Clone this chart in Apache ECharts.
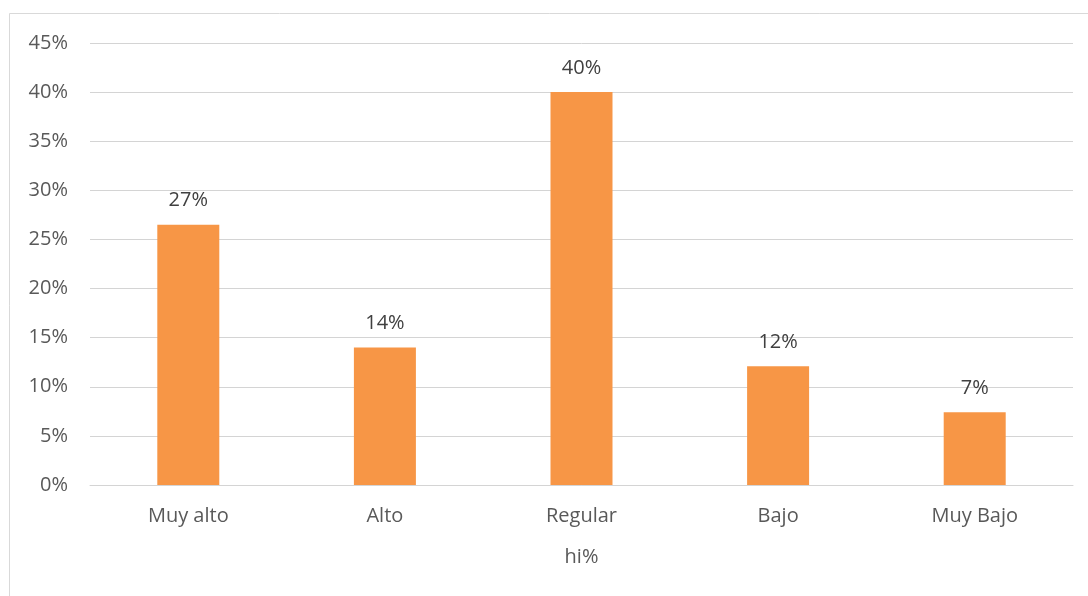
<!DOCTYPE html>
<html lang="es">
<head>
<meta charset="UTF-8">
<title>hi%</title>
<script src="https://cdn.jsdelivr.net/npm/echarts@6/dist/echarts.min.js"></script>
</head>
<body style="margin:0">
<div id="container" style="width:1088px;height:596px"></div>
<script type="text/javascript">
var categories = ['Muy alto', 'Alto', 'Regular', 'Bajo', 'Muy Bajo'];
var hiValues = [26.5, 14, 40, 12.1, 7.4];
var yTicks = [0, 5, 10, 15, 20, 25, 30, 35, 40, 45];

var myChart = echarts.init(document.getElementById('container'), null, { renderer: 'canvas' });
var textColor = '#595959';
var font = '"Open Sans", sans-serif';

var option = {
    backgroundColor: '#fff',
    animation: false,
    graphic: [{
        type: 'rect',
        shape: { x: 9.5, y: 13.5, width: 1100, height: 600 },
        style: { fill: 'none', stroke: '#d9d9d9', lineWidth: 1 },
        silent: true
    }],
    grid: { left: 90, right: 15, top: 43, bottom: 111 },
    xAxis: {
        type: 'category',
        data: categories,
        name: 'hi%',
        nameLocation: 'middle',
        nameGap: 62,
        nameTextStyle: { color: textColor, fontSize: 20, fontFamily: font },
        axisLine: { show: true, lineStyle: { color: '#d4d4d4' } },
        axisTick: { show: false },
        axisLabel: { color: textColor, fontSize: 20, fontFamily: font, margin: 21 }
    },
    yAxis: {
        type: 'value',
        min: yTicks[0],
        max: yTicks[yTicks.length - 1],
        interval: 5,
        axisLine: { show: false },
        axisTick: { show: false },
        splitLine: { lineStyle: { color: '#d4d4d4', width: 1 } },
        axisLabel: { color: textColor, fontSize: 20, fontFamily: font, margin: 22, formatter: '{value}%' }
    },
    series: [{
        type: 'bar',
        data: hiValues,
        barWidth: 62,
        itemStyle: { color: '#f79646' },
        label: {
            show: true,
            position: 'top',
            distance: 14,
            color: '#404040',
            fontSize: 20,
            fontFamily: font,
            formatter: function (p) { return Math.round(p.value) + '%'; }
        }
    }]
};

myChart.setOption(option);
window.addEventListener('resize', myChart.resize);
</script>
</body>
</html>
